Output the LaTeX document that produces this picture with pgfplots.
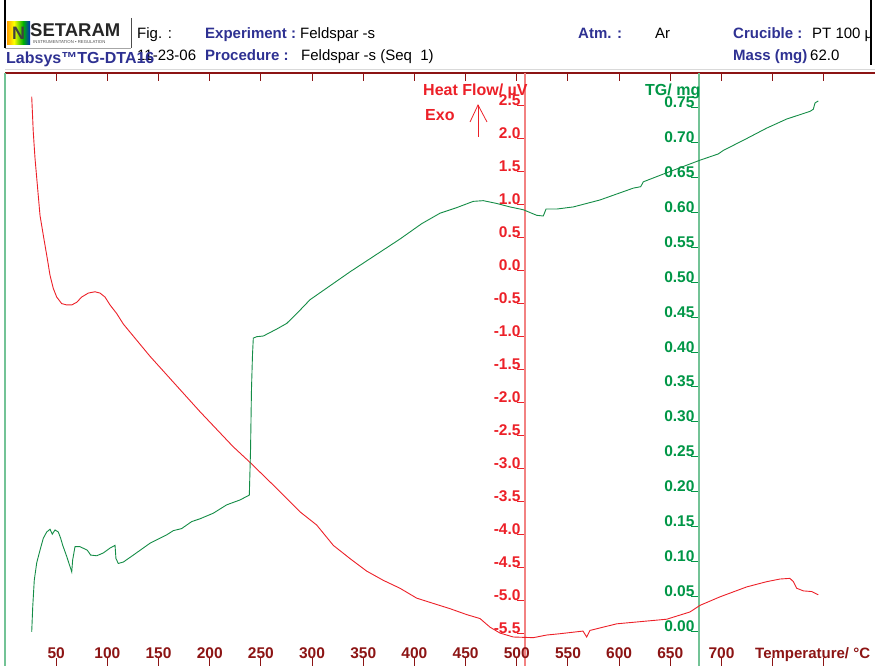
\documentclass[border=0pt]{standalone}
\usepackage{fontspec}
\setmainfont{Liberation Sans}
\usepackage{pgfplots}
\pgfplotsset{compat=1.18}
\definecolor{hfred}{RGB}{236,32,40}
\definecolor{tggreen}{RGB}{0,150,70}
\definecolor{tgcurve}{RGB}{20,140,70}
\definecolor{maroon}{RGB}{140,20,20}
\definecolor{navy}{RGB}{46,49,146}
\definecolor{hfaxis}{RGB}{242,130,130}
\definecolor{tgaxis}{RGB}{115,195,150}
\pgfdeclarehorizontalshading{rainbow}{100bp}{color(0bp)=(red); color(20bp)=(orange); color(40bp)=(yellow); color(60bp)=(green!70!black); color(80bp)=(blue); color(100bp)=(violet)}
\newcommand{\hdr}{\fontsize{15}{17}\selectfont}
\newcommand{\tl}{\fontsize{15.5}{18}\selectfont\bfseries}
\begin{document}
\begin{tikzpicture}[x=1pt,y=1pt]
\useasboundingbox (0,0) rectangle (875,666);
% ---------- header ----------
\draw[black!15, line width=1pt] (5,596) -- (875,596);
\draw[black, line width=1.2pt] (5,666) -- (5,618);
\draw[black!70, line width=1pt] (131,648) -- (131,618);
\draw[black!35, line width=0.8pt] (5,618) -- (131,618);
\shade[shading=rainbow] (7,644) rectangle (30,621);
\node[inner sep=0, text=black!75] at (18.5,632.5) {\fontsize{18}{18}\selectfont\bfseries N};
\node[anchor=base west, inner sep=0, text=black!85] at (30,629.5) {\fontsize{18.5}{18}\selectfont\bfseries SETARAM};
\node[anchor=base west, inner sep=0, text=black!70] at (33,622) {\fontsize{4.3}{4.3}\selectfont INSTRUMENTATION • REGULATION};
\draw[black, line width=1.2pt] (871,666) -- (871,601);
\node[anchor=base west, inner sep=0] at (137,627) {\hdr Fig. :};
\node[anchor=base west, inner sep=0, text=navy] at (205,627) {\hdr\bfseries Experiment :};
\node[anchor=base west, inner sep=0] at (300,627) {\hdr Feldspar -s};
\node[anchor=base west, inner sep=0, text=navy] at (578,627) {\hdr\bfseries Atm. :};
\node[anchor=base west, inner sep=0] at (655,627) {\hdr Ar};
\node[anchor=base west, inner sep=0, text=navy] at (733,627) {\hdr\bfseries Crucible :};
\begin{scope}
\clip (800,615) rectangle (870,650);
\node[anchor=base west, inner sep=0] at (812,627) {\hdr PT 100 µl};
\end{scope}
\node[anchor=base west, inner sep=0] at (137,605) {\hdr 11-23-06};
\node[anchor=base west, inner sep=0, text=navy] at (205,605) {\hdr\bfseries Procedure :};
\node[anchor=base west, inner sep=0] at (301,605) {\hdr Feldspar -s (Seq\ \ 1)};
\node[anchor=base west, inner sep=0, text=navy] at (733,605) {\hdr\bfseries Mass (mg)};
\node[anchor=base west, inner sep=0] at (810,605) {\hdr 62.0};
\node[anchor=base west, inner sep=0, text=navy] at (6,602) {\fontsize{16}{18}\selectfont\bfseries Labsys™TG-DTA16};
% ---------- frame lines ----------
\draw[maroon, line width=1.2pt] (5,593) -- (875,593);
\draw[tgaxis, line width=1.5pt] (5,0) -- (5,593);
% ---------- HF scale ----------
\begin{axis}[at={(525pt,0pt)}, anchor=south west, scale only axis, width=1pt, height=593pt,
  xmin=0, xmax=1, ymin=-6, ymax=3, axis x line=none, axis y line*=left,
  y axis line style={hfaxis, line width=1.5pt},
  ytick={-5.5,-5,-4.5,-4,-3.5,-3,-2.5,-2,-1.5,-1,-0.5,0,0.5,1,1.5,2,2.5},
  yticklabels={-5.5,-5.0,-4.5,-4.0,-3.5,-3.0,-2.5,-2.0,-1.5,-1.0,-0.5,0.0,0.5,1.0,1.5,2.0,2.5},
  tick align=outside, major tick length=8pt, ytick style={hfred, line width=1pt},
  yticklabel style={anchor=base east, xshift=7pt, font=\tl, text=hfred}]
\end{axis}
% ---------- TG scale ----------
\begin{axis}[at={(699pt,0pt)}, anchor=south west, scale only axis, width=1pt, height=593pt,
  xmin=0, xmax=1, ymin=-0.05, ymax=0.80, axis x line=none, axis y line*=left,
  y axis line style={tgaxis, line width=1.5pt},
  ytick={0,0.05,0.1,0.15,0.2,0.25,0.3,0.35,0.4,0.45,0.5,0.55,0.6,0.65,0.7,0.75},
  yticklabels={0.00,0.05,0.10,0.15,0.20,0.25,0.30,0.35,0.40,0.45,0.50,0.55,0.60,0.65,0.70,0.75},
  tick align=outside, major tick length=8pt, ytick style={tggreen, line width=1pt},
  yticklabel style={anchor=base east, xshift=7pt, font=\tl, text=tggreen}]
\end{axis}
% ---------- HF data + x ticks ----------
\begin{axis}[at={(5pt,0pt)}, anchor=south west, scale only axis, width=870pt, height=593pt,
  xmin=0, xmax=850, ymin=-6, ymax=3, axis line style={draw=none},
  xtick={50,100,150,200,250,300,350,400,450,500,550,600,650,700,750,800},
  xticklabels={50,100,150,200,250,300,350,400,450,500,550,600,650,700,,},
  ytick=\empty, tick align=inside, xtick pos=both, major tick length=8pt,
  xtick style={maroon, line width=1pt},
  xticklabel style={anchor=base, yshift=7pt, font=\tl, text=maroon}]
\addplot[hfred, line width=0.9pt] coordinates {
(26.1,2.64)(27.6,2.11)(29.3,1.71)(31.6,1.30)(34.2,0.84)(37.4,0.54)(40.7,0.24)(44.0,-0.07)(47.2,-0.27)(50.5,-0.40)(55.4,-0.50)(60.3,-0.52)(65.2,-0.52)(70.1,-0.48)(74.9,-0.40)(81.4,-0.34)(87.9,-0.32)(92.8,-0.34)(97.7,-0.40)(102.6,-0.52)(109.1,-0.65)(115.6,-0.81)
(141.7,-1.30)(166.1,-1.72)(190.5,-2.14)(222.8,-2.67)(239.4,-2.91)(263.8,-3.28)(288.2,-3.66)(304.5,-3.86)(320.8,-4.17)(337.1,-4.37)(353.4,-4.56)(369.6,-4.70)(385.9,-4.82)(402.2,-4.97)(418.4,-5.05)(434.8,-5.13)(451.1,-5.22)(464.1,-5.28)(473.8,-5.41)(483.6,-5.50)(496.6,-5.56)(516.2,-5.57)(529.2,-5.53)(542.2,-5.51)(564.7,-5.47)(568.3,-5.56)(571.5,-5.46)(597.6,-5.36)(646.5,-5.29)(669.2,-5.18)(679.0,-5.08)(698.6,-4.95)(724.6,-4.80)(744.2,-4.72)(757.2,-4.68)(766.9,-4.67)(770.2,-4.72)(773.5,-4.82)(780.0,-4.86)(788.1,-4.87)(794.6,-4.92)};
\end{axis}
% ---------- TG data ----------
\begin{axis}[at={(5pt,0pt)}, anchor=south west, scale only axis, width=870pt, height=593pt,
  xmin=0, xmax=850, ymin=-0.05, ymax=0.80, hide axis]
\addplot[tgcurve, line width=0.9pt] coordinates {
(26.1,-0.001)(27.1,0.035)(28.6,0.073)(31.0,0.098)(34.2,0.116)(37.4,0.133)(40.7,0.142)(44.0,0.146)(46.2,0.139)(48.9,0.145)(52.1,0.142)(54.4,0.133)(56.4,0.123)(60.3,0.107)(65.2,0.085)(66.1,0.102)(68.4,0.121)(73.3,0.121)(80.4,0.116)(83.7,0.109)(89.6,0.108)(96.0,0.112)(102.6,0.119)(107.5,0.123)(108.4,0.104)(110.7,0.097)(115.6,0.099)(125.4,0.109)(141.7,0.126)(158.0,0.138)(164.4,0.144)(172.6,0.147)(182.4,0.157)(190.5,0.161)(203.5,0.169)(216.6,0.181)(229.6,0.188)(238.7,0.195)
(239.9,0.260)(240.8,0.346)(241.8,0.396)(242.6,0.420)(245.9,0.422)(252.4,0.423)(265.5,0.433)(275.2,0.441)(288.2,0.460)(298.0,0.475)(337.1,0.515)(385.9,0.562)(407.1,0.584)(425.0,0.599)(441.3,0.607)(457.5,0.616)(467.3,0.617)(480.4,0.613)(493.4,0.608)(506.4,0.604)(512.9,0.600)(519.5,0.596)(525.9,0.595)(528.6,0.605)(539.0,0.605)(555.2,0.608)(581.3,0.618)(613.9,0.635)(621.1,0.637)(623.6,0.644)(646.5,0.657)(679.0,0.675)(696.9,0.684)(701.8,0.689)(724.6,0.706)(744.2,0.721)(763.7,0.734)(786.5,0.745)(789.7,0.748)(791.4,0.757)(794.6,0.760)};
\end{axis}
% ---------- axis titles ----------
\node[anchor=base west, inner sep=0, text=hfred] at (423,570) {\fontsize{16}{18}\selectfont\bfseries Heat Flow/ µV};
\node[anchor=base west, inner sep=0, text=hfred] at (425,545) {\fontsize{16}{18}\selectfont\bfseries Exo};
\draw[hfred, line width=0.8pt] (478,529) -- (478,561);
\draw[hfred, line width=0.8pt] (470,544) -- (478,561) -- (487,544);
\node[anchor=base west, inner sep=0, text=tggreen] at (645,570) {\fontsize{16}{18}\selectfont\bfseries TG/ mg};
\node[anchor=base west, inner sep=0, text=maroon] at (755,7) {\fontsize{15}{18}\selectfont\bfseries Temperature/ °C};
\end{tikzpicture}
\end{document}
